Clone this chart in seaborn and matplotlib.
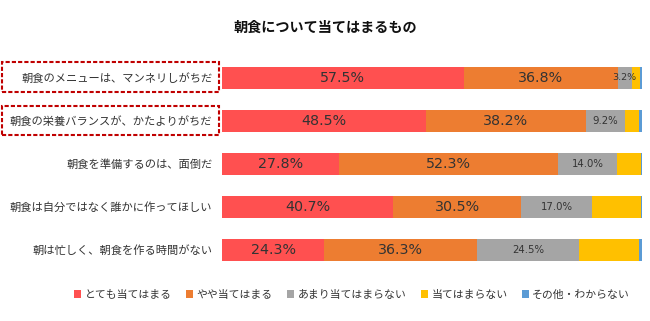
import numpy as np
import pandas as pd
import seaborn as sns
import matplotlib
matplotlib.use("Agg")
import matplotlib.pyplot as plt
from matplotlib.patches import Rectangle, Patch

categories = ["朝食のメニューは、マンネリしがちだ",
              "朝食の栄養バランスが、かたよりがちだ",
              "朝食を準備するのは、面倒だ",
              "朝食は自分ではなく誰かに作ってほしい",
              "朝は忙しく、朝食を作る時間がない"]
series = ["とても当てはまる", "やや当てはまる", "あまり当てはまらない", "当てはまらない", "その他・わからない"]
very = [57.5, 48.5, 27.8, 40.7, 24.3]
somewhat = [36.8, 38.2, 52.3, 30.5, 36.3]
not_much = [3.2, 9.2, 14.0, 17.0, 24.5]
not_at_all = [2.0, 3.4, 5.6, 11.5, 14.2]
other = [0.5, 0.7, 0.3, 0.3, 0.7]
colors = ["#FF5050", "#ED7D31", "#A5A5A5", "#FFC000", "#5B9BD5"]

sns.set_theme(style="white")
plt.rcParams['font.family'] = ['Noto Sans CJK JP', 'DejaVu Sans']

vals = np.array([very, somewhat, not_much, not_at_all, other]).T
cum = np.cumsum(vals, axis=1)

fig = plt.figure(figsize=(6.5, 3.21), dpi=100)
ax = fig.add_axes([222/650, 1-271.5/321, 420/650, 215/321])

for k in reversed(range(5)):
    df = pd.DataFrame({"cat": categories, "v": cum[:, k]})
    sns.barplot(data=df, x="v", y="cat", color=colors[k], orient="h",
                width=0.51, ax=ax, saturation=1, linewidth=0)

ax.set_xlim(0, 100)
ax.set_ylim(4.5, -0.5)
ax.set_xlabel("")
ax.set_ylabel("")
ax.set_xticks([])
for s in ax.spines.values():
    s.set_visible(False)
ax.tick_params(axis="y", length=0, pad=7, labelsize=8.1, labelcolor="#333333")

for i in range(5):
    for k in range(3):
        v = vals[i, k]
        left = cum[i, k] - v
        if k < 2:
            fs = 10.3
        else:
            fs = 7.3 if v >= 5 else 6.8
        ax.text(left + v / 2, i, f"{v:.1f}%", ha="center", va="center",
                fontsize=fs, color="#333333", fontfamily=['DejaVu Sans'])

fig.text(0.5, 1-28/321, "朝食について当てはまるもの", ha="center", va="center",
         fontsize=10.2, fontweight="bold", color="#111111")

for y0, y1 in [(62, 92), (106, 135)]:
    r = Rectangle((1.5/650, 1-y1/321), 217/650, (y1-y0)/321, transform=fig.transFigure,
                  fill=False, edgecolor="#C00000", linestyle=(0, (2, 1)), linewidth=1.5)
    fig.patches.append(r)

handles = [Patch(facecolor=c, edgecolor="none") for c in colors]
fig.legend(handles, series, loc="center", bbox_to_anchor=(352/650, 1-295/321), ncol=5,
           frameon=False, fontsize=7.8, handlelength=0.7, handleheight=0.7,
           handletextpad=0.3, columnspacing=1.3, labelcolor="#333333")

fig.savefig("out.png", dpi=100, facecolor="white")
